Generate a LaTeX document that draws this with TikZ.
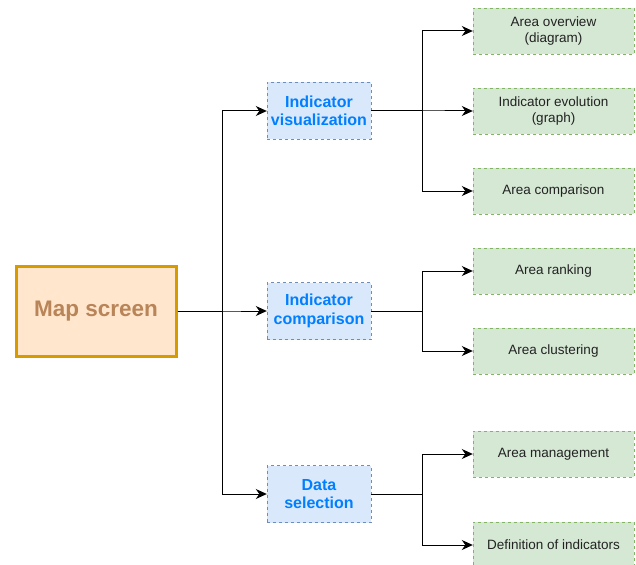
\documentclass[tikz,border=0pt]{standalone}
\usepackage{fontspec}
\setmainfont{Liberation Sans}
\usetikzlibrary{arrows.meta}

\definecolor{mapfill}{RGB}{255,230,204}
\definecolor{mapline}{RGB}{215,155,0}
\definecolor{maptext}{RGB}{184,132,88}
\definecolor{groupfill}{RGB}{218,232,252}
\definecolor{groupline}{RGB}{108,142,191}
\definecolor{grouptext}{RGB}{0,127,255}
\definecolor{leaffill}{RGB}{213,232,212}
\definecolor{leafline}{RGB}{130,179,102}
\definecolor{leaftext}{RGB}{34,34,34}

\begin{document}
\begin{tikzpicture}[x=1pt,y=-1pt,%
  mapbox/.style={draw=mapline,line width=3pt,fill=mapfill,text=maptext,
    font=\fontsize{22.5}{27}\selectfont\bfseries,
    minimum width=160pt,minimum height=90pt,inner sep=0pt},
  groupbox/.style={draw=groupline,dashed,fill=groupfill,text=grouptext,
    font=\fontsize{16}{18.5}\selectfont\bfseries,align=center,
    minimum width=104pt,minimum height=57pt,inner sep=0pt},
  leafbox/.style={draw=leafline,dashed,fill=leaffill,text=leaftext,
    font=\fontsize{13.5}{16.5}\selectfont,align=center,
    minimum width=161pt,minimum height=46pt,inner sep=0pt},
  link/.style={draw=black,line width=1pt,-{Stealth[length=11pt,width=10pt,inset=3.5pt]}}]
  \useasboundingbox (0,0) rectangle (636,564);

  \node[mapbox] (map) at (96,311) {Map screen};

  \node[groupbox] (vis) at (319,111) {Indicator\\visualization};
  \node[groupbox] (cmp) at (319,311) {Indicator\\comparison};
  \node[groupbox] (sel) at (319,494) {Data\\selection};

  \node[leafbox] (overview) at (553.5,31) {Area overview\\(diagram)};
  \node[leafbox] (evolution) at (553.5,111) {Indicator evolution\\(graph)};
  \node[leafbox] (areacmp) at (553.5,191) {Area comparison};
  \node[leafbox] (ranking) at (553.5,271) {Area ranking};
  \node[leafbox] (cluster) at (553.5,351) {Area clustering};
  \node[leafbox] (manage) at (553.5,454) {Area management};
  \node[leafbox] (define) at (553.5,545) {Definition of indicators};

  % map screen to groups
  \foreach \g in {vis,cmp,sel}
    \draw[link] (map.east) -- +(45,0) |- (\g.west);

  % groups to leaves
  \foreach \p/\c in {vis/overview,vis/evolution,vis/areacmp,
                     cmp/ranking,cmp/cluster,sel/manage,sel/define}
    \draw[link] (\p.east) -- +(51,0) |- (\c.west);
\end{tikzpicture}
\end{document}
